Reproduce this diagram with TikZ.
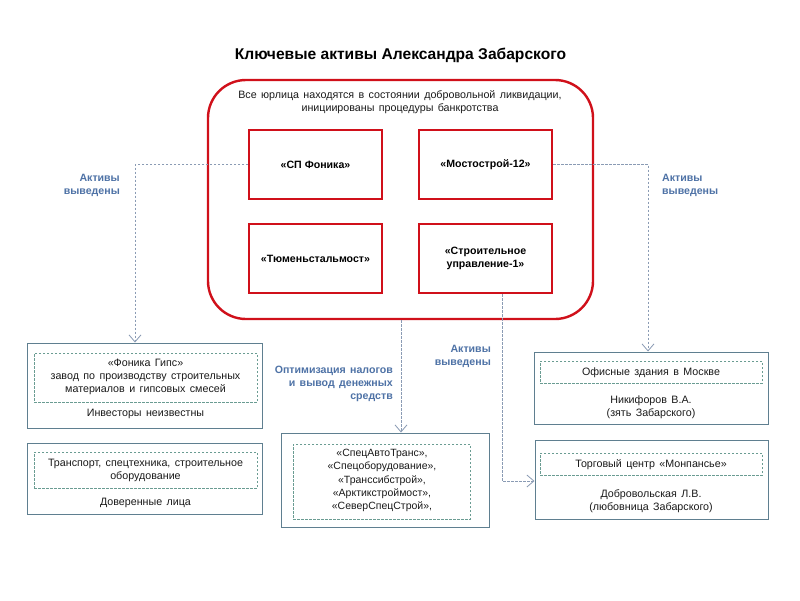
\documentclass[tikz,border=0pt]{standalone}
\usepackage{fontspec}
\setmainfont{Liberation Sans}
\usetikzlibrary{arrows.meta}
\definecolor{redc}{HTML}{D0101A}
\definecolor{boxc}{HTML}{5F7F90}
\definecolor{dashc}{HTML}{6A9C92}
\definecolor{connc}{HTML}{8A9BB4}
\definecolor{labc}{HTML}{4E72A6}
\definecolor{txtc}{HTML}{1A1A1A}
\newcommand{\wsp}{\spaceskip=4.4pt plus 1pt\relax}
\tikzset{
  redbox/.style={draw=redc,line width=2pt,minimum width=133pt,minimum height=69pt,inner sep=0pt,align=center,font=\fontsize{10.6}{12.5}\selectfont\bfseries},
  outbox/.style={draw=boxc,line width=1pt,inner sep=0pt,fill=white},
  inbox/.style={draw=dashc,line width=0.8pt,dash pattern=on 2.5pt off 1.5pt,inner sep=0pt},
  txt/.style={font=\fontsize{10.7}{13}\selectfont\wsp,text=txtc,align=center,inner sep=0pt},
  lab/.style={font=\fontsize{10.6}{13}\selectfont\bfseries\wsp,text=labc,inner sep=0pt},
  conn/.style={draw=connc,line width=0.8pt,dash pattern=on 2.5pt off 1.5pt,-{Straight Barb[length=7pt,width=12pt,line width=0.8pt]}}
}
\begin{document}
\begin{tikzpicture}[x=1pt,y=-1pt]
\useasboundingbox (0,0) rectangle (800,600);
\fill[white] (0,0) rectangle (800,600);
% title
\node[font=\fontsize{15.6}{19}\selectfont\bfseries,inner sep=0pt] (title) at (400.5,55) {Ключевые активы Александра Забарского};
% big red rect
\node[draw=redc,line width=2.4pt,rounded corners=38pt,minimum width=385pt,minimum height=239pt,inner sep=0pt] (big) at (400.5,199.5) {};
\node[txt] (bigtxt) at (400,102) {Все юрлица находятся в состоянии добровольной ликвидации,\\инициированы процедуры банкротства};
\node[redbox] (sp) at (315.5,164.5) {«СП Фоника»};
\node[redbox] (ms) at (485.5,164.5) {«Мостострой-12»};
\node[redbox] (tm) at (315.5,258.5) {«Тюменьстальмост»};
\node[redbox] (su) at (485.5,258.5) {«Строительное\\управление-1»};
% left boxes
\node[outbox,minimum width=235pt,minimum height=85pt] (lb1) at (144.5,385.5) {};
\node[inbox,minimum width=223pt,minimum height=49pt] (lb1i) at (145.5,377.5) {};
\node[txt] (lb1t) at (145.5,377) {«Фоника Гипс»\\завод по производству строительных\\материалов и гипсовых смесей};
\node[txt] (lb1b) at (145.5,413.5) {Инвесторы неизвестны};
\node[outbox,minimum width=235pt,minimum height=71pt] (lb2) at (144.5,478.5) {};
\node[inbox,minimum width=223pt,minimum height=36pt] (lb2i) at (145.5,470) {};
\node[txt] (lb2t) at (145.5,470) {Транспорт, спецтехника, строительное\\оборудование};
\node[txt] (lb2b) at (145.5,502.5) {Доверенные лица};
% middle box
\node[outbox,minimum width=208pt,minimum height=94pt] (mb) at (385,480) {};
\node[inbox,minimum width=177pt,minimum height=75pt] (mbi) at (381.5,481.5) {};
\node[txt,font=\fontsize{10.5}{13.2}\selectfont] (mbt) at (382,480.5) {«СпецАвтоТранс»,\\«Спецоборудование»,\\«Транссибстрой»,\\«Арктикстроймост»,\\«СеверСпецСтрой»,};
% right boxes
\node[outbox,minimum width=234pt,minimum height=72pt] (rb1) at (651,388) {};
\node[inbox,minimum width=222pt,minimum height=22pt] (rb1i) at (651,372) {};
\node[txt] (rb1t) at (651,372.5) {Офисные здания в Москве};
\node[txt] (rb1b) at (651,407) {Никифоров В.А.\\(зять Забарского)};
\node[outbox,minimum width=233pt,minimum height=79pt] (rb2) at (651.5,479.5) {};
\node[inbox,minimum width=222pt,minimum height=22pt] (rb2i) at (651,464) {};
\node[txt] (rb2t) at (651,464.5) {Торговый центр «Монпансье»};
\node[txt] (rb2b) at (651,501.5) {Добровольская Л.В.\\(любовница Забарского)};
% connectors
\coordinate (lx) at (135,0);
\coordinate (rx) at (648,0);
\coordinate (mx) at (401,0);
\coordinate (sx) at (502,0);
\draw[conn] (sp.west) -| (lb1.north -| lx);
\draw[conn] (ms.east) -| (rb1.north -| rx);
\draw[conn] (big.south -| mx) -- (mb.north -| mx);
\draw[conn] (su.south -| sx) |- (rb2.west |- 0,481);
% labels
\node[lab,anchor=east,align=right] (l1) at (120,185) {Активы\\выведены};
\node[lab,anchor=west,align=left] (l2) at (662,185) {Активы\\выведены};
\node[lab,anchor=east,align=right] (l3) at (393,383.5) {Оптимизация налогов\\и вывод денежных\\средств};
\node[lab,anchor=east,align=right] (l4) at (491,356) {Активы\\выведены};
\end{tikzpicture}
\end{document}
